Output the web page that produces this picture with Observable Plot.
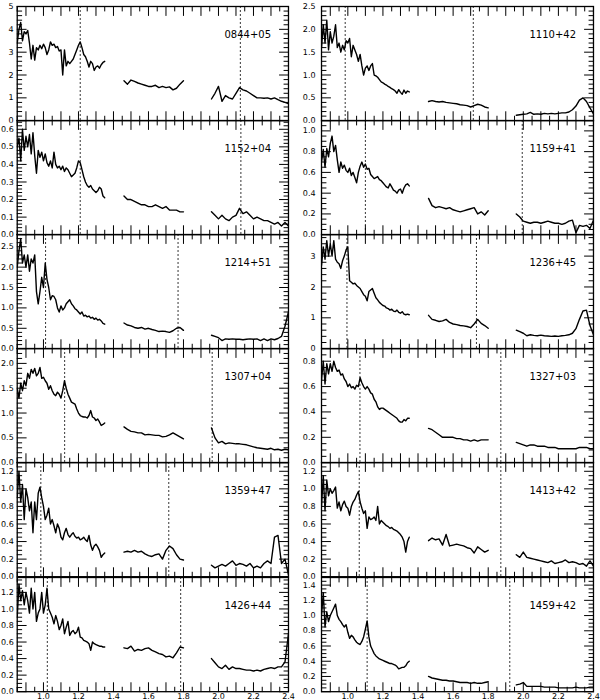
<!DOCTYPE html>
<html><head><meta charset="utf-8">
<script src="https://cdn.jsdelivr.net/npm/d3@7"></script>
<script src="https://cdn.jsdelivr.net/npm/@observablehq/plot@0.6"></script>
<style>
html,body{margin:0;padding:0;background:#fff;}
#fig{position:relative;width:600px;height:700px;overflow:hidden;font-family:"DejaVu Sans",sans-serif;}
#fig > svg{position:absolute;overflow:visible;background:none;}
</style></head><body><div id="fig"></div>
<script>
// wavelength grids (microns) for the three spectral segments
const waveA = [0.85,0.86,0.87,0.88,0.89,0.90,0.91,0.92,0.93,0.94,0.95,0.96,0.97,0.98,0.99,1.00,1.01,1.02,1.03,1.04,1.05,1.06,1.07,1.08,1.09,1.10,1.11,1.12,1.13,1.14,1.15,1.16,1.17,1.18,1.19,1.20,1.21,1.22,1.23,1.24,1.25,1.26,1.27,1.28,1.29,1.30,1.31,1.32,1.33,1.34,1.35];
const waveB = [1.46,1.48,1.50,1.52,1.54,1.56,1.58,1.60,1.62,1.64,1.66,1.68,1.70,1.72,1.74,1.76,1.78,1.80];
const waveC = [1.96,1.98,2.00,2.02,2.04,2.06,2.08,2.10,2.12,2.14,2.16,2.18,2.20,2.22,2.24,2.26,2.28,2.30,2.32,2.34,2.36,2.38,2.40];

const names = ["0844+05","1110+42","1152+04","1159+41","1214+51","1236+45","1307+04","1327+03","1359+47","1413+42","1426+44","1459+42"];
const yMax = [5, 2.5, 0.65, 1.1, 2.8, 3.7, 2.3, 0.9, 1.3, 1.3, 1.38, 1.5];
const yTicks = [
  [0,1,2,3,4,5],[0,0.5,1,1.5,2,2.5],[0,0.1,0.2,0.3,0.4,0.5,0.6],[0,0.2,0.4,0.6,0.8,1.0],
  [0,0.5,1,1.5,2,2.5],[0,1,2,3],[0,0.5,1,1.5,2],[0,0.2,0.4,0.6,0.8],
  [0,0.2,0.4,0.6,0.8,1.0,1.2],[0,0.2,0.4,0.6,0.8,1.0,1.2],[0,0.2,0.4,0.6,0.8,1.0,1.2],[0,0.2,0.4,0.6,0.8,1.0,1.2,1.4]
];
const yMinorStep = [0.2, 0.1, 0.02, 0.05, 0.1, 0.2, 0.1, 0.05, 0.05, 0.05, 0.05, 0.05];
const yIntLabels = [true,false,false,false,false,true,false,false,false,false,false,false];
const emissionLines = [[1.21,2.125],[0.985,1.715],[1.21,2.128],[1.10,1.994],[1.012,1.769],[0.995,1.733],[1.121,1.964],[1.069,1.872],[0.985,1.716],[1.065,1.872],[1.022,1.784],[1.11,1.923]];
const xLabelTicks = [1.0,1.2,1.4,1.6,1.8,2.0,2.2,2.4];

const f0844A = [3.4,4.0,4.3,3.5,3.9,3.8,3.95,3.4,2.7,3.3,2.65,3.2,3.1,3.3,3.15,3.35,3.2,2.9,3.1,3.45,3.3,3.35,3.2,3.25,3.05,3.1,2.0,3.1,2.4,2.6,2.5,2.6,2.7,2.9,3.1,3.3,3.45,3.2,2.9,2.8,2.6,2.35,2.6,2.5,2.2,2.35,2.4,2.3,2.45,2.55,2.6];
const f0844B = [1.75,1.6,1.78,1.72,1.65,1.6,1.55,1.5,1.5,1.55,1.45,1.5,1.45,1.48,1.35,1.42,1.6,1.75];
const f0844C = [0.95,1.2,1.5,0.85,1.1,1.0,0.95,1.2,1.45,1.35,1.3,1.2,1.1,1.0,1.0,0.98,1.0,0.95,1.0,0.92,0.85,0.8,0.75];
const f1110A = [1.6,2.1,1.7,2.2,1.55,1.95,1.7,1.85,2.1,1.6,1.7,1.5,1.65,1.55,1.75,1.7,1.8,1.4,1.65,1.55,1.45,1.3,1.45,1.2,1.0,1.15,1.2,1.1,1.2,1.25,1.0,0.98,0.95,0.9,0.85,0.83,0.8,0.78,0.75,0.73,0.7,0.68,0.65,0.6,0.68,0.62,0.58,0.67,0.6,0.65,0.63];
const f1110B = [0.42,0.44,0.42,0.41,0.42,0.4,0.39,0.38,0.37,0.35,0.34,0.33,0.3,0.33,0.36,0.34,0.3,0.28];
const f1110C = [0.12,0.13,0.14,0.15,0.18,0.14,0.15,0.14,0.16,0.15,0.16,0.15,0.16,0.17,0.17,0.19,0.24,0.32,0.45,0.5,0.42,0.28,0.15];
const f1152A = [0.5,0.55,0.42,0.6,0.48,0.56,0.5,0.57,0.46,0.58,0.45,0.35,0.48,0.44,0.47,0.42,0.46,0.41,0.39,0.42,0.38,0.47,0.4,0.38,0.39,0.37,0.39,0.36,0.38,0.37,0.35,0.33,0.34,0.35,0.38,0.42,0.41,0.37,0.33,0.3,0.28,0.27,0.28,0.26,0.25,0.24,0.25,0.27,0.26,0.22,0.21];
const f1152B = [0.22,0.2,0.2,0.19,0.18,0.17,0.17,0.16,0.16,0.17,0.16,0.15,0.16,0.14,0.14,0.14,0.13,0.13];
const f1152C = [0.13,0.11,0.09,0.11,0.09,0.08,0.1,0.11,0.15,0.12,0.13,0.11,0.09,0.1,0.09,0.08,0.08,0.07,0.06,0.07,0.05,0.07,0.05];
const f1159A = [0.7,0.82,0.65,0.83,0.75,0.88,0.95,0.8,0.86,0.72,0.6,0.7,0.64,0.67,0.62,0.6,0.64,0.57,0.6,0.55,0.5,0.6,0.66,0.7,0.65,0.68,0.63,0.64,0.58,0.56,0.54,0.55,0.56,0.53,0.52,0.5,0.48,0.46,0.45,0.49,0.46,0.43,0.42,0.4,0.43,0.44,0.4,0.45,0.48,0.49,0.47];
const f1159B = [0.35,0.28,0.26,0.27,0.26,0.25,0.26,0.24,0.23,0.22,0.23,0.24,0.25,0.26,0.2,0.22,0.19,0.23];
const f1159C = [0.2,0.17,0.13,0.12,0.11,0.12,0.12,0.11,0.12,0.13,0.12,0.11,0.11,0.1,0.11,0.13,0.14,0.02,0.09,0.08,0.09,0.06,0.14];
const f1214A = [2.0,2.4,2.7,2.1,2.3,2.0,2.3,1.9,2.2,2.1,2.3,1.4,1.1,1.4,1.75,1.5,2.1,1.7,1.5,1.2,1.3,1.28,1.2,1.0,0.9,1.05,0.95,1.0,1.1,1.15,1.2,1.1,1.05,0.98,0.95,0.9,0.85,0.9,0.8,0.82,0.78,0.8,0.75,0.77,0.72,0.75,0.7,0.72,0.68,0.62,0.6];
const f1214B = [0.63,0.58,0.56,0.52,0.5,0.52,0.48,0.5,0.47,0.45,0.42,0.43,0.42,0.4,0.44,0.5,0.52,0.45];
const f1214C = [0.33,0.3,0.27,0.2,0.24,0.23,0.24,0.23,0.23,0.22,0.23,0.24,0.23,0.24,0.2,0.24,0.2,0.24,0.22,0.25,0.3,0.55,0.9];
const f1236A = [2.7,3.3,2.9,3.5,3.0,3.4,3.0,3.5,2.9,2.8,2.75,2.6,2.85,3.0,3.2,3.3,2.2,2.15,2.1,2.12,2.05,2.0,1.95,1.85,1.75,1.7,1.55,1.85,1.9,1.95,1.8,1.65,1.58,1.5,1.45,1.4,1.38,1.32,1.3,1.25,1.28,1.22,1.2,1.25,1.18,1.15,1.2,1.12,1.1,1.12,1.1];
const f1236B = [1.08,0.95,0.92,0.88,0.9,0.95,0.85,0.8,0.78,0.75,0.74,0.72,0.68,0.8,0.95,0.82,0.75,0.66];
const f1236C = [0.6,0.55,0.5,0.42,0.45,0.43,0.42,0.44,0.42,0.41,0.4,0.41,0.4,0.42,0.43,0.45,0.5,0.65,0.95,1.22,1.25,0.75,0.45];
const f1307A = [1.5,1.3,1.6,1.45,1.65,1.55,1.8,1.7,1.88,1.8,1.9,1.75,1.8,1.92,1.7,1.72,1.65,1.6,1.48,1.55,1.45,1.38,1.35,1.42,1.38,1.3,1.45,1.65,1.5,1.38,1.3,1.22,1.2,1.18,1.08,1.0,0.95,0.93,0.92,0.92,0.9,0.95,1.05,0.92,0.9,0.85,0.88,0.82,0.75,0.77,0.8];
const f1307B = [0.72,0.67,0.63,0.62,0.6,0.6,0.56,0.57,0.56,0.55,0.55,0.52,0.53,0.56,0.6,0.56,0.52,0.48];
const f1307C = [0.7,0.5,0.4,0.43,0.38,0.4,0.39,0.38,0.38,0.37,0.36,0.34,0.32,0.3,0.29,0.28,0.27,0.29,0.26,0.27,0.25,0.27,0.26];
const f1327A = [0.65,0.8,0.62,0.78,0.7,0.78,0.72,0.8,0.75,0.72,0.73,0.69,0.7,0.66,0.64,0.6,0.62,0.59,0.6,0.58,0.61,0.6,0.67,0.63,0.6,0.58,0.6,0.58,0.55,0.54,0.5,0.48,0.44,0.42,0.43,0.43,0.42,0.41,0.4,0.39,0.38,0.37,0.36,0.35,0.33,0.32,0.32,0.34,0.33,0.35,0.35];
const f1327B = [0.27,0.26,0.24,0.22,0.2,0.2,0.2,0.2,0.19,0.19,0.18,0.18,0.17,0.18,0.17,0.18,0.18,0.18];
const f1327C = [0.16,0.15,0.14,0.13,0.14,0.14,0.13,0.13,0.13,0.12,0.12,0.12,0.11,0.11,0.11,0.11,0.11,0.11,0.12,0.12,0.12,0.11,0.11];
const f1359A = [0.9,1.2,0.85,1.05,0.65,1.0,0.9,0.75,0.85,0.5,0.85,0.65,0.95,1.02,0.9,0.8,0.65,0.7,0.78,0.6,0.65,0.58,0.5,0.6,0.55,0.45,0.42,0.5,0.55,0.48,0.45,0.48,0.5,0.46,0.44,0.45,0.42,0.43,0.45,0.42,0.4,0.47,0.36,0.3,0.35,0.37,0.34,0.3,0.22,0.25,0.27];
const f1359B = [0.28,0.29,0.28,0.3,0.28,0.29,0.26,0.24,0.23,0.25,0.26,0.2,0.3,0.35,0.32,0.25,0.2,0.19];
const f1359C = [0.13,0.1,0.12,0.14,0.12,0.15,0.18,0.13,0.15,0.14,0.12,0.15,0.1,0.12,0.1,0.15,0.18,0.15,0.45,0.47,0.15,0.2,0.02];
const f1413A = [0.8,1.15,0.75,1.1,0.92,1.0,0.95,0.98,1.02,0.78,0.85,0.75,0.82,0.86,0.8,0.78,0.7,0.8,0.85,0.88,0.93,0.97,0.85,0.78,0.72,0.75,0.55,0.68,0.65,0.66,0.68,0.64,0.8,0.6,0.64,0.62,0.6,0.58,0.57,0.55,0.56,0.54,0.53,0.52,0.5,0.48,0.45,0.4,0.28,0.4,0.45];
const f1413B = [0.41,0.44,0.42,0.43,0.36,0.48,0.35,0.36,0.37,0.36,0.35,0.33,0.32,0.27,0.34,0.31,0.28,0.3];
const f1413C = [0.25,0.22,0.28,0.22,0.21,0.2,0.19,0.18,0.17,0.16,0.18,0.15,0.16,0.17,0.19,0.16,0.17,0.16,0.14,0.15,0.12,0.18,0.12];
const f1426A = [0.9,1.3,1.1,1.22,1.05,1.2,1.1,0.95,1.25,1.0,1.2,0.85,0.95,1.0,1.2,0.95,1.05,1.25,1.0,0.95,0.9,0.82,0.92,0.85,0.75,0.8,0.88,0.7,0.78,0.85,0.68,0.72,0.74,0.7,0.72,0.78,0.66,0.65,0.62,0.61,0.6,0.58,0.5,0.6,0.58,0.57,0.56,0.55,0.55,0.54,0.54];
const f1426B = [0.53,0.52,0.55,0.49,0.51,0.5,0.52,0.53,0.5,0.48,0.46,0.45,0.42,0.43,0.41,0.47,0.54,0.53];
const f1426C = [0.4,0.35,0.3,0.28,0.32,0.27,0.3,0.28,0.28,0.27,0.26,0.26,0.25,0.26,0.25,0.27,0.28,0.29,0.28,0.3,0.3,0.36,0.7];
const f1459A = [1.0,1.3,0.85,1.05,0.92,1.0,1.05,1.1,1.15,1.0,0.95,0.92,0.88,0.85,0.88,0.78,0.7,0.74,0.72,0.68,0.65,0.63,0.62,0.66,0.72,0.82,0.93,0.72,0.6,0.55,0.5,0.47,0.45,0.43,0.42,0.41,0.4,0.39,0.38,0.37,0.37,0.36,0.35,0.33,0.3,0.31,0.32,0.32,0.34,0.38,0.4];
const f1459B = [0.2,0.18,0.17,0.16,0.15,0.15,0.14,0.14,0.13,0.12,0.12,0.12,0.11,0.12,0.11,0.11,0.12,0.13];
const f1459C = [0.09,0.1,0.12,0.07,0.07,0.07,0.07,0.07,0.06,0.06,0.06,0.06,0.05,0.05,0.05,0.05,0.05,0.06,0.05,0.05,0.05,0.06,0.06];

const fluxA = [f0844A,f1110A,f1152A,f1159A,f1214A,f1236A,f1307A,f1327A,f1359A,f1413A,f1426A,f1459A];
const fluxB = [f0844B,f1110B,f1152B,f1159B,f1214B,f1236B,f1307B,f1327B,f1359B,f1413B,f1426B,f1459B];
const fluxC = [f0844C,f1110C,f1152C,f1159C,f1214C,f1236C,f1307C,f1327C,f1359C,f1413C,f1426C,f1459C];

const xDomain = [0.85, 2.4];
const xMajor = d3.range(9, 25).map(v => v / 10);
const xMinor = d3.range(17, 49).map(v => v / 20).filter(v => Math.abs(v*10 - Math.round(v*10)) > 1e-6);

const fig = document.getElementById("fig");
const rowTop = 5.5, rowH = 114.2;
const majLen = 9, minLen = 4.5;
const overlays = [];

names.forEach((name, i) => {
  const col = i % 2, row = Math.floor(i / 2);
  const left = col === 0 ? 0 : 300;
  const mL = col === 0 ? 16.7 : 21, mR = col === 0 ? 12 : 7;
  const top = rowTop + row * rowH;
  const isBottom = row === 5;
  const ym = yMax[i];
  const plotW = 300 - mL - mR;
  const kx = (xDomain[1] - xDomain[0]) / plotW;
  const ky = ym / rowH;
  const step = yMinorStep[i];
  const yMinor = d3.range(0, Math.round(ym / step) + 1).map(k => +(k * step).toFixed(4)).filter(v => v <= ym && !yTicks[i].some(t => Math.abs(t - v) < 1e-6));
  const fmt = yIntLabels[i] ? (d => d3.format("d")(d)) : (d => d3.format(".1f")(d));
  const segA = waveA.map((w, j) => ({w, f: fluxA[i][j]}));
  const segB = waveB.map((w, j) => ({w, f: fluxB[i][j]}));
  const segC = waveC.map((w, j) => ({w, f: fluxC[i][j]}));
  const common = {
    width: 300, height: rowH,
    marginLeft: mL, marginRight: mR, marginTop: 0, marginBottom: 0,
    x: {domain: xDomain, axis: null},
    y: {domain: [0, ym], axis: null},
    style: {background: "transparent", overflow: "visible", fontFamily: "'DejaVu Sans', sans-serif", color: "black"}
  };
  const marks = [
    Plot.ruleX(emissionLines[i], {x: d => d, stroke: "#333", strokeWidth: 1, strokeDasharray: "2,2"}),
    Plot.line(segA, {x: "w", y: "f", stroke: "black", strokeWidth: 1.4, clip: true}),
    Plot.line(segB, {x: "w", y: "f", stroke: "black", strokeWidth: 1.4, clip: true}),
    Plot.line(segC, {x: "w", y: "f", stroke: "black", strokeWidth: 1.4, clip: true}),
    Plot.text(yTicks[i], {y: d => d, text: fmt, frameAnchor: "left", textAnchor: "end", dx: col === 0 ? -3.5 : -6, fontSize: 8, fill: "black"}),
    Plot.text([name], {frameAnchor: "top-right", textAnchor: "end", dx: -17.5, dy: 24.5, fontSize: 10, fill: "black"})
  ];
  if (isBottom) {
    marks.push(Plot.text(xLabelTicks, {x: d => d, text: d => d3.format(".1f")(d), frameAnchor: "bottom", lineAnchor: "top", dy: 1.5, fontSize: 8, fill: "black"}));
  }
  const svg = Plot.plot({...common, marks});
  svg.style.position = "absolute";
  svg.style.left = left + "px";
  svg.style.top = top + "px";
  fig.appendChild(svg);

  // inward ticks on all four sides, drawn as short two-point line series
  const tk = [];
  let id = 0;
  const seg = (x1, y1, x2, y2) => { tk.push({x: x1, y: y1, id}); tk.push({x: x2, y: y2, id}); id++; };
  xMajor.forEach(v => { seg(v, 0, v, majLen * ky); seg(v, ym - majLen * ky, v, ym); });
  xMinor.forEach(v => { seg(v, 0, v, minLen * ky); seg(v, ym - minLen * ky, v, ym); });
  yTicks[i].forEach(v => { seg(xDomain[0], v, xDomain[0] + majLen * kx, v); seg(xDomain[1] - majLen * kx, v, xDomain[1], v); });
  yMinor.forEach(v => { seg(xDomain[0], v, xDomain[0] + minLen * kx, v); seg(xDomain[1] - minLen * kx, v, xDomain[1], v); });
  const ov = Plot.plot({...common, marks: [
    Plot.line(tk, {x: "x", y: "y", z: "id", stroke: "black", strokeWidth: 1}),
    Plot.frame({stroke: "black", strokeWidth: 1.3})
  ]});
  ov.style.position = "absolute";
  ov.style.left = left + "px";
  ov.style.top = top + "px";
  overlays.push(ov);
});
overlays.forEach(ov => fig.appendChild(ov));
</script></body></html>
